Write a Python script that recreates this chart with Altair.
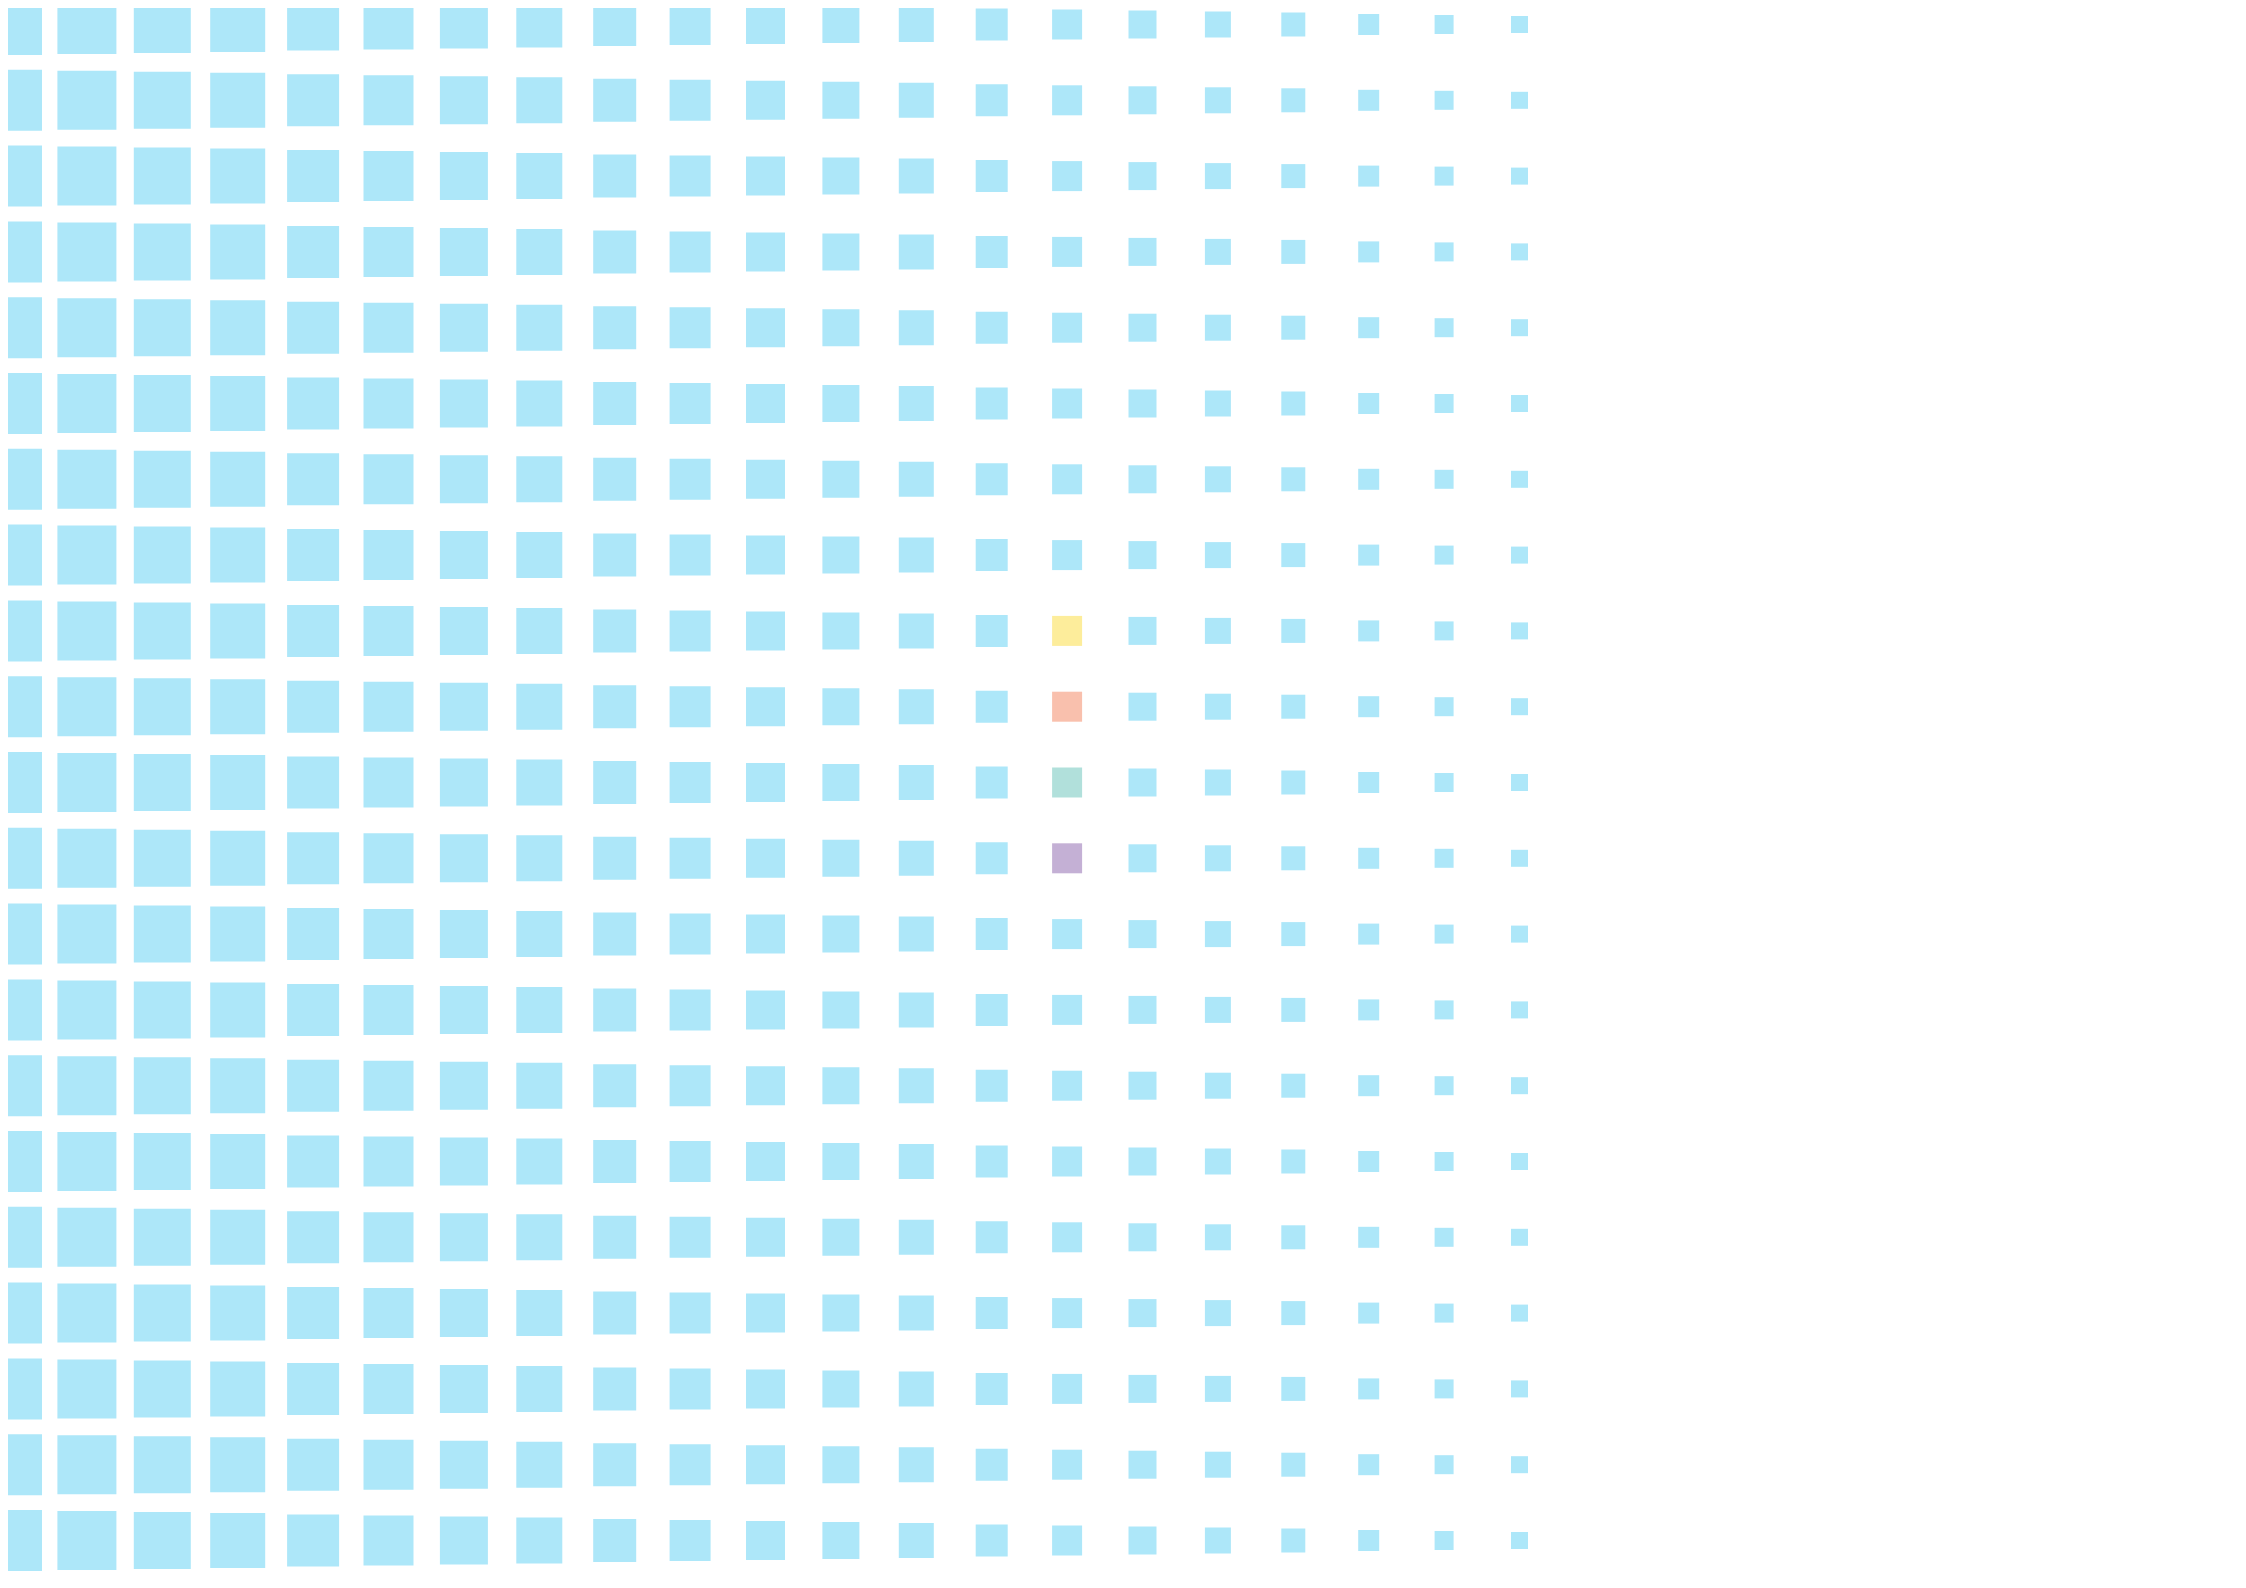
import altair as alt
import pandas as pd

# column index, row index
cols = list(range(21))
rows = list(range(22))
# square side per column (px-like units)
col_sizes = [61, 59, 57, 55, 52, 50, 48, 46, 43, 41, 39, 37, 35, 32, 30, 28, 26, 24, 21, 19, 17]
# highlighted cells: (col, row, category)
highlight_col = [14, 14, 14, 14]
highlight_row = [8, 9, 10, 11]
highlight_cat = ["yellow", "salmon", "teal", "purple"]

categories = ["base", "yellow", "salmon", "teal", "purple"]
palette = ["#ADE7F9", "#FDED9B", "#F9C0AD", "#B1E0DB", "#C4B0D5"]

hl = {(c, r): k for c, r, k in zip(highlight_col, highlight_row, highlight_cat)}
records = []
for r in rows:
    for c in cols:
        records.append({"col": c, "row": r, "side": col_sizes[c],
                        "cat": hl.get((c, r), "base")})
df = pd.DataFrame(records)

chart = alt.Chart(df).mark_square(filled=True, opacity=1, strokeWidth=0).encode(
    x=alt.X("col:Q", axis=None, scale=alt.Scale(domain=[0, 20], range=[3.5, 1511.5], nice=False, zero=False)),
    y=alt.Y("row:Q", axis=None, scale=alt.Scale(domain=[0, 21], range=[16.5, 1608.3], nice=False, zero=False)),
    size=alt.Size("side:Q", legend=None, scale=alt.Scale(type="pow", exponent=2, domain=[0, 61], range=[0, 3721])),
    color=alt.Color("cat:N", legend=None, scale=alt.Scale(domain=categories, range=palette)),
).properties(
    width=2230, height=1563, padding=0,
    autosize=alt.AutoSizeParams(type="none"),
    background="white",
).configure_view(stroke=None)

chart.save("out.html", embed_options={"renderer": "svg", "actions": False})
